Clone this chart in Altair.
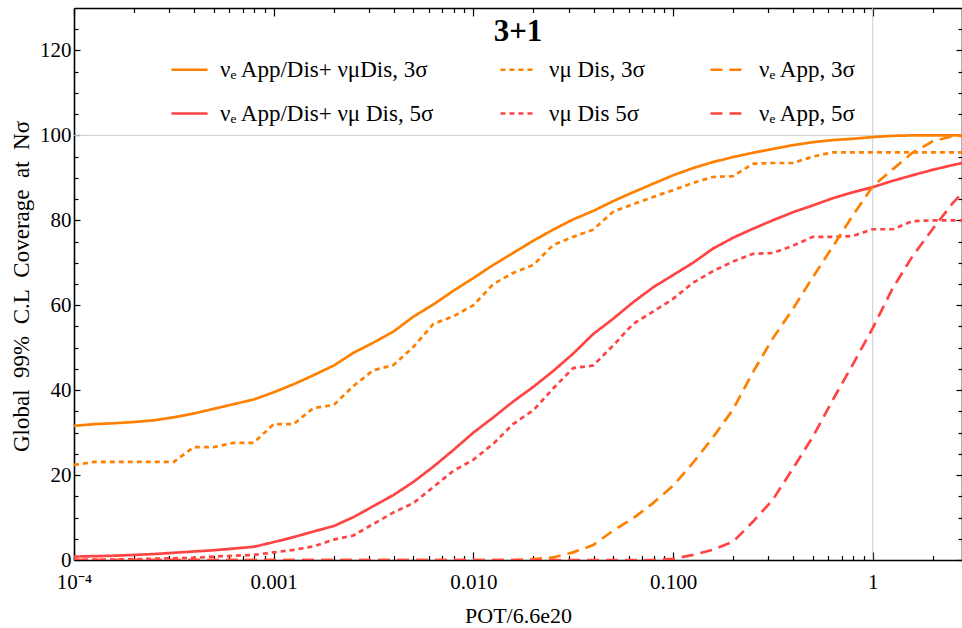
import altair as alt
import pandas as pd

# ---------------- data ----------------
POT = [1.0e-4, 1.26e-4, 1.58e-4, 2.0e-4, 2.51e-4, 3.16e-4, 3.98e-4, 5.01e-4, 6.31e-4, 7.94e-4,
       1.0e-3, 1.26e-3, 1.58e-3, 2.0e-3, 2.51e-3, 3.16e-3, 3.98e-3, 5.01e-3, 6.31e-3, 7.94e-3,
       1.0e-2, 1.26e-2, 1.58e-2, 2.0e-2, 2.51e-2, 3.16e-2, 3.98e-2, 5.01e-2, 6.31e-2, 7.94e-2,
       1.0e-1, 1.26e-1, 1.58e-1, 2.0e-1, 2.51e-1, 3.16e-1, 3.98e-1, 5.01e-1, 6.31e-1, 7.94e-1,
       1.0, 1.26, 1.58, 2.0, 2.51, 3.16]

APPDIS_3 = [31.6, 32.0, 32.2, 32.5, 32.9, 33.6, 34.5, 35.6, 36.7, 37.8,
            39.5, 41.4, 43.5, 45.8, 48.8, 51.2, 53.8, 57.3, 60.2, 63.4,
            66.4, 69.5, 72.3, 75.2, 77.8, 80.2, 82.2, 84.5, 86.6, 88.6,
            90.6, 92.3, 93.7, 94.9, 95.9, 96.8, 97.7, 98.4, 98.9, 99.2,
            99.6, 99.9, 100, 100, 100, 100]
NUMU_DIS_3 = [22.4, 23.1, 23.1, 23.1, 23.1, 23.1, 26.6, 26.6, 27.6, 27.6,
              32.0, 32.0, 35.8, 36.5, 41.0, 44.7, 45.9, 50.2, 55.6, 57.4,
              60.0, 65.0, 67.6, 69.5, 74.2, 76.1, 77.8, 82.0, 83.8, 85.5,
              87.1, 88.8, 90.2, 90.4, 93.3, 93.5, 93.5, 95.0, 96.0, 96.0,
              96, 96, 96, 96, 96, 96]
NUE_APP_3 = [0, 0, 0, 0, 0, 0, 0, 0, 0, 0,
             0, 0, 0, 0, 0, 0, 0, 0, 0, 0,
             0, 0, 0, 0.2, 0.6, 1.8, 3.5, 6.9, 9.8, 13.4,
             17.5, 22.9, 28.8, 35.5, 44.2, 52.2, 59.1, 66.6, 73.8, 81.1,
             88.0, 92.0, 95.9, 98.6, 99.8, 100]
APPDIS_5 = [0.8, 0.9, 1.0, 1.2, 1.4, 1.7, 2.0, 2.3, 2.7, 3.1,
            4.2, 5.4, 6.7, 8.0, 10.1, 12.7, 15.3, 18.4, 22.0, 25.9,
            30.0, 33.6, 37.3, 40.8, 44.5, 48.6, 53.2, 56.8, 60.7, 64.2,
            67.1, 70.0, 73.3, 75.9, 78.0, 80.0, 81.9, 83.5, 85.2, 86.6,
            87.8, 89.3, 90.6, 91.9, 93.0, 94.0]
NUMU_DIS_5 = [0.0, 0.1, 0.1, 0.2, 0.3, 0.4, 0.5, 0.8, 1.0, 1.2,
              1.8, 2.4, 3.2, 4.8, 5.8, 8.5, 11.2, 13.4, 17.2, 21.0,
              23.6, 27.4, 32.0, 35.3, 40.4, 45.2, 45.8, 50.5, 55.6, 58.5,
              61.5, 65.3, 68.0, 70.3, 72.1, 72.3, 74.0, 76.1, 76.1, 76.3,
              77.9, 77.9, 79.8, 80.0, 80.0, 80.0]
NUE_APP_5 = [0, 0, 0, 0, 0, 0, 0, 0, 0, 0,
             0, 0, 0, 0, 0, 0, 0, 0, 0, 0,
             0, 0, 0, 0, 0, 0, 0, 0, 0, 0,
             0.3, 1.2, 2.4, 4.3, 9.0, 14.2, 21.5, 29.0, 37.7, 46.0,
             54.6, 64.0, 71.5, 78.0, 84.0, 89.0]

# legend order: the legend fills column by column (2 rows x 3 columns)
SERIES = ["νₑ App/Dis+ νμDis, 3σ", "νₑ App/Dis+ νμ Dis, 5σ",
          "νμ Dis, 3σ", "νμ Dis 5σ",
          "νₑ App, 3σ", "νₑ App, 5σ"]
VALUES = [APPDIS_3, APPDIS_5, NUMU_DIS_3, NUMU_DIS_5, NUE_APP_3, NUE_APP_5]
COLORS = ["#ff8000", "#ff4444", "#ff8000", "#ff4444", "#ff8000", "#ff4444"]
DASHES = [[1, 0], [1, 0], [5, 4], [5, 4], [12, 7], [12, 7]]

X_DOMAIN = [1e-4, 2.8]
Y_DOMAIN = [0, 130]
X_MAJOR = [1e-4, 1e-3, 1e-2, 1e-1, 1]
X_LABELS = ["10⁻⁴", "0.001", "0.010", "0.100", "1"]
X_MINOR = [2e-4, 3e-4, 4e-4, 5e-4, 6e-4, 7e-4, 8e-4, 9e-4,
           2e-3, 3e-3, 4e-3, 5e-3, 6e-3, 7e-3, 8e-3, 9e-3,
           2e-2, 3e-2, 4e-2, 5e-2, 6e-2, 7e-2, 8e-2, 9e-2,
           0.2, 0.3, 0.4, 0.5, 0.6, 0.7, 0.8, 0.9, 2]
Y_MAJOR = [0, 20, 40, 60, 80, 100, 120]
Y_MINOR = [5, 10, 15, 25, 30, 35, 45, 50, 55, 65, 70, 75, 85, 90, 95, 105, 110, 115, 125]
GRID_X = [1]
GRID_Y = [100]

# ---------------- layout ----------------
W, H = 888, 552
FONT = "Liberation Serif"
SP = "\u00a0\u00a0"

rows = []
for name, vals in zip(SERIES, VALUES):
    for p, v in zip(POT, vals):
        rows.append({"pot": p, "cov": v, "series": name})
df = pd.DataFrame(rows)

sx = alt.Scale(type="log", domain=X_DOMAIN, nice=False)
sy = alt.Scale(domain=Y_DOMAIN, nice=False, zero=False)

# label expression built from the tick label list
expr = "'" + X_LABELS[-1] + "'"
for v, lab in reversed(list(zip(X_MAJOR[:-1], X_LABELS[:-1]))):
    expr = f"datum.value < {v * 3.1623} ? '{lab}' : " + expr

legend = alt.Legend(orient="none", legendX=96, legendY=42, columns=3, title=None,
                    symbolType="stroke", symbolSize=1300, symbolStrokeWidth=2.6,
                    labelFont=FONT, labelFontSize=23, labelColor="black", labelOffset=11,
                    labelLimit=0, columnPadding=60, rowPadding=12, padding=0)

lines = alt.Chart(df).mark_line(strokeWidth=2.7, clip=True).encode(
    x=alt.X("pot:Q", scale=sx, axis=alt.Axis(
        orient="bottom", values=X_MAJOR, labelExpr=expr, ticks=False, tickSize=0,
        labelPadding=11, labelFont=FONT, labelFontSize=21, labelColor="black",
        labelFlush=False, domain=True, domainColor="black", domainWidth=1.6, grid=False,
        title="POT/6.6e20", titleFont=FONT, titleFontSize=22, titleFontWeight="normal",
        titleColor="black", titleY=62, titleBaseline="alphabetic")),
    y=alt.Y("cov:Q", scale=sy, axis=alt.Axis(
        orient="left", values=Y_MAJOR, ticks=False, tickSize=0, labelPadding=3,
        labelFont=FONT, labelFontSize=21, labelColor="black", labelFlush=False,
        domain=True, domainColor="black", domainWidth=1.6, grid=False,
        title=SP.join(["Global", "99%", "C.L", "Coverage", "at", "Nσ"]),
        titleFont=FONT, titleFontSize=23,
        titleFontWeight="normal", titleColor="black", titleX=-46, titleY=278,
        titleBaseline="alphabetic")),
    color=alt.Color("series:N", scale=alt.Scale(domain=SERIES, range=COLORS), legend=legend),
    strokeDash=alt.StrokeDash("series:N", scale=alt.Scale(domain=SERIES, range=DASHES),
                              legend=legend),
)

grid_v = alt.Chart(pd.DataFrame({"pot": GRID_X})).mark_rule(
    color="#cccccc", strokeWidth=1).encode(x=alt.X("pot:Q", scale=sx, axis=None))
grid_h = alt.Chart(pd.DataFrame({"cov": GRID_Y})).mark_rule(
    color="#cccccc", strokeWidth=1).encode(y=alt.Y("cov:Q", scale=sy, axis=None))

tick_df = pd.DataFrame({"pot": [1.0], "cov": [50.0]})


def tick_layer(channel, orient, values, size, domain):
    base = alt.Chart(tick_df).mark_point(opacity=0)
    offset = -H if channel == "x" else -W
    ax = alt.Axis(orient=orient, offset=offset, values=values, ticks=True, tickSize=size,
                  tickColor="black", tickWidth=1.2, labels=False, domain=domain,
                  domainColor="black", domainWidth=1.6, grid=False, title="")
    if channel == "x":
        return base.encode(x=alt.X("pot:Q", scale=sx, axis=ax),
                           y=alt.Y("cov:Q", scale=sy, axis=None))
    return base.encode(y=alt.Y("cov:Q", scale=sy, axis=ax),
                       x=alt.X("pot:Q", scale=sx, axis=None))


ticks = [
    tick_layer("x", "top", X_MAJOR, 8, False),      # bottom edge, inward
    tick_layer("x", "top", X_MINOR, 4.5, False),
    tick_layer("x", "bottom", X_MAJOR, 8, True),    # top edge, inward
    tick_layer("x", "bottom", X_MINOR, 4.5, False),
    tick_layer("y", "right", Y_MAJOR, 6, False),    # left edge, inward
    tick_layer("y", "right", Y_MINOR, 4, False),
    tick_layer("y", "left", Y_MAJOR, 6, True),      # right edge, inward
    tick_layer("y", "left", Y_MINOR, 4, False),
]

chart = alt.layer(grid_v, grid_h, lines, *ticks).resolve_axis(
    x="independent", y="independent"
).properties(
    width=W, height=H,
    padding={"left": 74, "top": 8, "right": 0, "bottom": 68},
    autosize=alt.AutoSizeParams(type="none"),
    title=alt.TitleParams("3+1", anchor="middle", frame="group", offset=-65,
                          baseline="alphabetic", font=FONT, fontSize=31,
                          fontWeight="bold", color="black"),
).configure_view(stroke=None)

chart.save("out.html", embed_options={"renderer": "svg", "actions": False})
